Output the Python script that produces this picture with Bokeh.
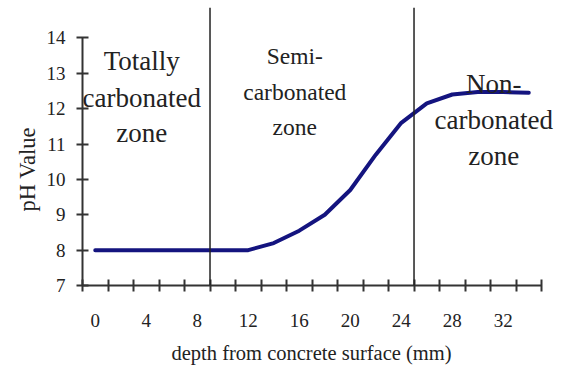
from bokeh.plotting import figure
from bokeh.models import FixedTicker, Range1d, Span, Title
from bokeh.embed import file_html
from bokeh.resources import INLINE
from bokeh.core.properties import value

# ---- data ----
depth_mm = [0, 2, 4, 6, 8, 10, 12, 14, 16, 18, 20, 22, 24, 26, 28, 30, 32, 34]
ph_values = [8.0, 8.0, 8.0, 8.0, 8.0, 8.0, 8.0, 8.2, 8.55, 9.0, 9.7, 10.7, 11.6, 12.15, 12.4, 12.47, 12.47, 12.45]
x_tick_labels = [0, 4, 8, 12, 16, 20, 24, 28, 32]
x_category_edges = [-1, 1, 3, 5, 7, 9, 11, 13, 15, 17, 19, 21, 23, 25, 27, 29, 31, 33, 35]
y_ticks = [7, 8, 9, 10, 11, 12, 13, 14]
zone_boundaries_mm = [9, 25]
zone_left = ["Totally", "carbonated", "zone"]
zone_mid = ["Semi-", "carbonated", "zone"]
zone_right = ["Non-", "carbonated", "zone"]
x_title = "depth from concrete surface (mm)"
y_title = "pH Value"

# ---- layout (annotation placement) ----
left_x, left_y = 3.65, [13.36, 12.31, 11.32]
mid_x, mid_y = 15.65, [13.50, 12.48, 11.47]
right_x, right_y = 31.25, [12.71, 11.69, 10.67]

FONT = "Liberation Serif"
INK = "#222222"

p = figure(width=565, height=374, output_backend="svg", toolbar_location=None,
           x_range=Range1d(-1, 36.88), y_range=Range1d(7, 14.86),
           min_border_left=82, min_border_right=0, min_border_top=7, min_border_bottom=89)
p.outline_line_color = None
p.grid.visible = False
p.background_fill_color = "white"
p.border_fill_color = "white"

# x axis
xa = p.xaxis[0]
xa.ticker = FixedTicker(ticks=x_tick_labels, minor_ticks=x_category_edges)
xa.bounds = (x_category_edges[0], x_category_edges[-1])
xa.major_tick_in = 0
xa.major_tick_out = 0
xa.minor_tick_in = 6
xa.minor_tick_out = 6
xa.minor_tick_line_color = "#333333"
xa.minor_tick_line_width = 2
xa.axis_line_color = "#333333"
xa.axis_line_width = 2
xa.major_label_standoff = 22
xa.major_label_text_font = FONT
xa.major_label_text_font_size = "19px"
xa.major_label_text_color = INK

# y axis
ya = p.yaxis[0]
ya.ticker = FixedTicker(ticks=y_ticks, minor_ticks=[])
ya.bounds = (y_ticks[0], y_ticks[-1])
ya.major_tick_in = 6
ya.major_tick_out = 6
ya.major_tick_line_color = "#333333"
ya.major_tick_line_width = 2
ya.minor_tick_line_color = None
ya.axis_line_color = "#333333"
ya.axis_line_width = 2
ya.major_label_standoff = 11
ya.major_label_text_font = FONT
ya.major_label_text_font_size = "19px"
ya.major_label_text_color = INK

# axis titles (placed to match the original, which centres them on the axis lines)
p.add_layout(Title(text=x_title, align="left", offset=89, standoff=21,
                   text_font=FONT, text_font_size="20.5px", text_font_style="normal",
                   text_color=INK), "below")
p.add_layout(Title(text=y_title, align="left", offset=74, standoff=8,
                   text_font=FONT, text_font_size="22.5px", text_font_style="normal",
                   text_color=INK), "left")

# zone boundaries
for b in zone_boundaries_mm:
    p.add_layout(Span(location=b, dimension="height", line_color="#222222", line_width=1.5))

# data line
p.line(depth_mm, ph_values, line_color="#14147f", line_width=4, line_join="round", line_cap="round")

# zone labels
for words, x, ys, size in [(zone_left, left_x, left_y, "27px"),
                           (zone_mid, mid_x, mid_y, "23.5px"),
                           (zone_right, right_x, right_y, "27px")]:
    p.text(x=[x] * len(words), y=ys, text=words, text_font=value(FONT), text_font_size=size,
           text_align="center", text_baseline="alphabetic", text_color=INK)

open("out.html", "w").write(file_html(p, INLINE))
